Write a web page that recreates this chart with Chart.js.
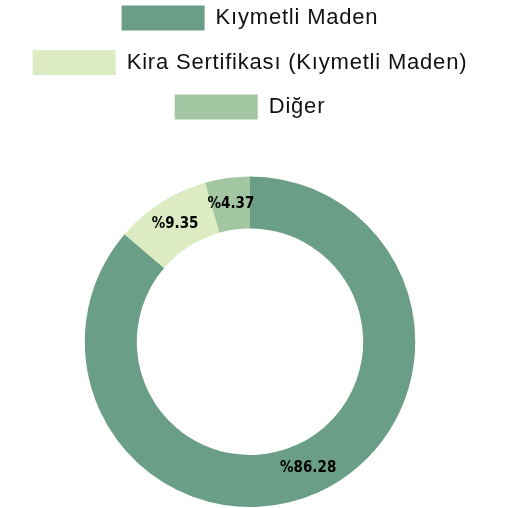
<!DOCTYPE html>
<html>
<head>
<meta charset="utf-8">
<script src="https://cdn.jsdelivr.net/npm/chart.js@4.4.1/dist/chart.umd.min.js"></script>
<style>
  html, body { margin: 0; padding: 0; background: #fff; }
  #wrap { width: 519px; height: 508px; position: relative; }
</style>
</head>
<body>
<div id="wrap"><canvas id="c"></canvas></div>
<script>
const categories = ['Kıymetli Maden', 'Kira Sertifikası (Kıymetli Maden)', 'Diğer'];
const shares = [86.28, 9.35, 4.37];
const valueLabels = ['%86.28', '%9.35', '%4.37'];
const colors = ['#6a9e86', '#dcebc2', '#a2c6a1'];

const spacingPlugin = {
  id: 'spacing',
  beforeLayout(chart) { chart.ctx.letterSpacing = '0.8px'; },
  afterLayout(chart) { chart.ctx.letterSpacing = '0px'; },
  beforeDraw(chart) { chart.ctx.letterSpacing = '0.8px'; },
  beforeDatasetsDraw(chart) { chart.ctx.letterSpacing = '0px'; }
};

const legendMargin = {
  id: 'legendMargin',
  beforeInit(chart) {
    const fit = chart.legend.fit;
    chart.legend.fit = function () {
      fit.bind(chart.legend)();
      this.height += 47;
    };
  }
};

const arcLabels = {
  id: 'arcLabels',
  afterDatasetsDraw(chart) {
    const ctx = chart.ctx;
    const meta = chart.getDatasetMeta(0);
    ctx.save();
    ctx.letterSpacing = '0px';
    ctx.font = 'bold 15px "DejaVu Sans Condensed", "Liberation Sans", sans-serif';
    ctx.fillStyle = '#000';
    ctx.textAlign = 'center';
    ctx.textBaseline = 'middle';
    meta.data.forEach((arc, i) => {
      const p = arc.tooltipPosition();
      ctx.fillText(valueLabels[i], p.x, p.y);
    });
    ctx.restore();
  }
};

new Chart(document.getElementById('c'), {
  type: 'doughnut',
  data: {
    labels: categories,
    datasets: [{
      data: shares,
      backgroundColor: colors,
      borderWidth: 0
    }]
  },
  options: {
    responsive: true,
    maintainAspectRatio: false,
    animation: false,
    cutout: '68.5%',
    layout: { padding: { top: -14, right: 19, bottom: 1, left: 0 } },
    plugins: {
      tooltip: { enabled: false },
      legend: {
        position: 'top',
        labels: {
          boxWidth: 83,
          boxHeight: 25,
          padding: 19.5,
          color: '#111',
          font: { family: '"Liberation Sans", Arial, sans-serif', size: 22 }
        }
      }
    }
  },
  plugins: [spacingPlugin, legendMargin, arcLabels]
});
</script>
</body>
</html>
